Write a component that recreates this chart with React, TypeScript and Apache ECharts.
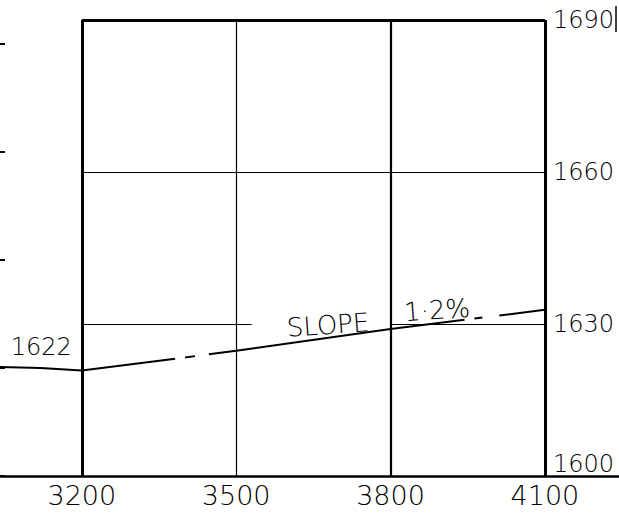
import React, { useEffect, useRef } from "react";
import * as echarts from "echarts";

// Stations (x) and elevations (y)
const stations = [3200, 3500, 3800, 4100];
const elevMin = 1600;
const elevMax = 1690;
const elevStep = 30;
const xMin = 3041;
const xMax = 4244;

// Grade line profile
const gradeX = [3041, 3120, 3200, 3500, 3800, 4100];
const gradeY = [1621.5, 1621.3, 1620.8, 1624.7, 1629.0, 1632.8];

// Point annotation
const labelStation = [3200];
const labelElev = [1620.8];
const pointLabels = ["1622"];

// Slope annotation words
const slopeWords = ["SLOPE", "1·2%"];

// Horizontal grid segments: [fromStation, toStation, elevation]
const hFrom = [3200, 3200, 3200, 3800];
const hTo = [4100, 4100, 3530, 4100];
const hElev = [1690, 1660, 1630, 1630];

// Left neighbouring scale ticks
const leftScaleMax = 4.222;
const leftScaleTicks = [0, 1, 2, 3, 4];

// Styles (kept apart from data)
const vWidths = [3, 1.2, 2.2, 3];
const hWidths = [3, 1.2, 1.2, 1.2];
const FONT = "DejaVu Sans";

export default function App() {
  const ref = useRef<HTMLDivElement>(null);
  useEffect(() => {
    if (!ref.current) return;
    const chart = echarts.init(ref.current, null, { renderer: "svg" });
    const rot = (4 * Math.PI) / 180;
    chart.setOption({
      animation: false,
      backgroundColor: "#fff",
      grid: { left: 0, right: 0, top: 20, bottom: 41, containLabel: false, outerBoundsMode: "none" },
      xAxis: {
        type: "value",
        min: xMin,
        max: xMax,
        axisLine: { show: true, lineStyle: { color: "#000", width: 2.5 } },
        axisTick: { show: false },
        splitLine: { show: false },
        axisLabel: {
          customValues: stations,
          formatter: (v: number) => String(v),
          fontSize: 27,
          fontFamily: FONT,
          fontWeight: 300,
          color: "#000",
          margin: 6,
        },
      },
      yAxis: [
        {
          type: "value",
          min: elevMin,
          max: elevMax,
          interval: elevStep,
          position: "right",
          offset: -74,
          axisLine: { show: false },
          axisTick: { show: false },
          splitLine: { show: false },
          axisLabel: {
            formatter: (v: number) => String(v),
            fontSize: 24,
            fontFamily: FONT,
            fontWeight: 300,
            color: "#000",
            margin: 8,
            verticalAlignMinLabel: "bottom",
          },
        },
        {
          type: "value",
          min: 0,
          max: leftScaleMax,
          position: "left",
          offset: 0,
          axisLine: { show: false },
          axisTick: {
            show: true,
            inside: true,
            length: 5,
            customValues: leftScaleTicks,
            lineStyle: { color: "#000", width: 2 },
          },
          axisLabel: { show: false, customValues: leftScaleTicks },
          splitLine: { show: false },
        },
      ],
      series: [
        {
          type: "line",
          name: "frame",
          data: [],
          silent: true,
          markLine: {
            symbol: "none",
            silent: true,
            label: { show: false },
            data: [
              ...stations.map((s, i) => ({ xAxis: s, lineStyle: { color: "#000", width: vWidths[i], type: "solid" } })),
              ...hElev.map((e, i) => [
                { coord: [hFrom[i], e], lineStyle: { color: "#000", width: hWidths[i], type: "solid" } },
                { coord: [hTo[i], e] },
              ]),
            ],
          },
        },
        {
          type: "line",
          name: "grade",
          data: gradeX.map((x, i) => [x, gradeY[i]]),
          symbol: "none",
          z: 5,
          lineStyle: { color: "#000", width: 2, type: [176, 10, 10, 14, 258, 10, 8, 17, 400, 10] },
        },
        {
          type: "scatter",
          name: "labels",
          data: labelStation.map((x, i) => [x, labelElev[i]]),
          symbolSize: 0,
          itemStyle: { color: "#000" },
          label: {
            show: true,
            position: "left",
            distance: 10,
            offset: [0, -24],
            formatter: (p: any) => pointLabels[p.dataIndex],
            fontSize: 24,
            fontFamily: FONT,
            fontWeight: 300,
            color: "#000",
            opacity: 1,
          },
        },
      ],
      graphic: [
        {
          type: "text",
          x: 328,
          y: 325,
          rotation: rot,
          z: 10,
          style: { text: slopeWords[0], fontSize: 26, fontFamily: FONT, fontWeight: 300, fill: "#000", align: "center", verticalAlign: "middle" },
        },
        {
          type: "text",
          x: 437,
          y: 310,
          rotation: rot,
          z: 10,
          style: { text: slopeWords[1], fontSize: 26, fontFamily: FONT, fontWeight: 300, fill: "#000", align: "center", verticalAlign: "middle" },
        },
        {
          type: "line",
          shape: { x1: 616, y1: 6, x2: 616, y2: 32 },
          style: { stroke: "#000", lineWidth: 1.5 },
        },
      ],
    });
    return () => chart.dispose();
  }, []);
  return <div ref={ref} style={{ position: "absolute", left: 0, top: 0, width: 619, height: 517 }} />;
}
